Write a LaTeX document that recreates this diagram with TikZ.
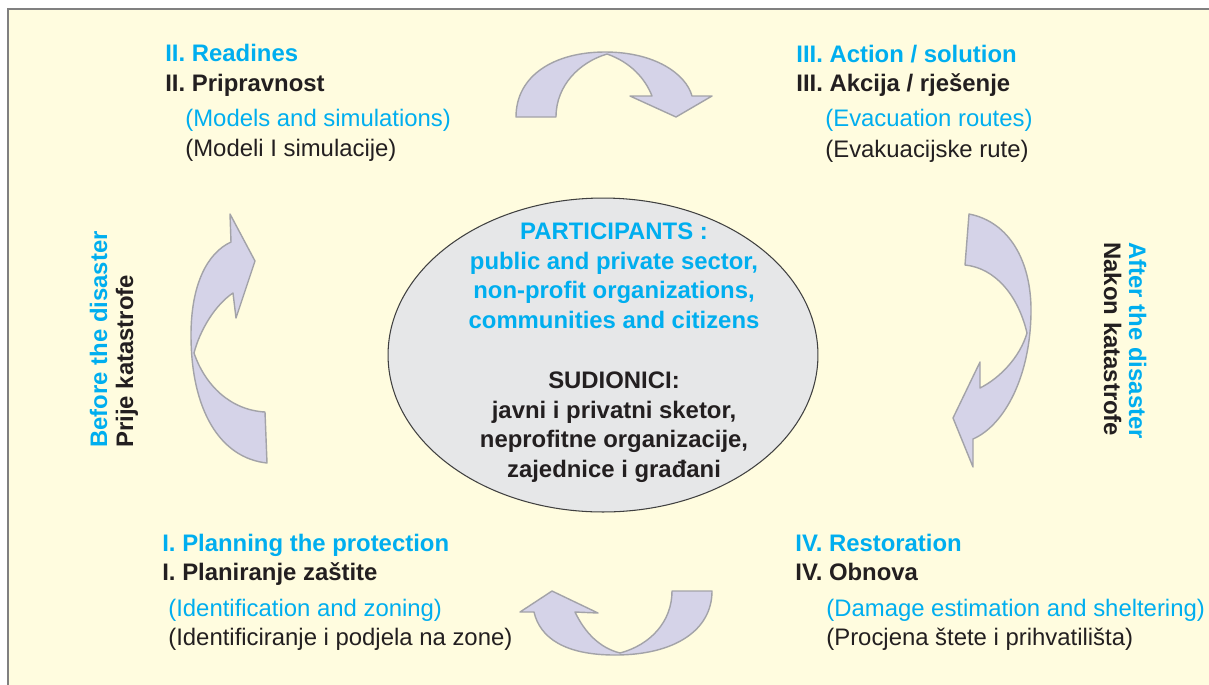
\documentclass[tikz,border=0pt]{standalone}
\usepackage{fontspec}
\setmainfont{Liberation Sans}
\usetikzlibrary{shapes.geometric}

\definecolor{gelb}{HTML}{FFFCDF}
\definecolor{hellblau}{HTML}{00AEEF}
\definecolor{schwarz}{HTML}{231F20}
\definecolor{lila}{HTML}{D5D3E8}
\definecolor{lilarand}{HTML}{A3A3A8}
\definecolor{grau}{HTML}{E6E7E8}

\tikzset{
  titel/.style={anchor=base west, inner sep=0pt, font=\fontsize{13.6}{17.1}\selectfont\bfseries},
  zeile/.style={anchor=base west, inner sep=0pt, font=\fontsize{13.6}{17.1}\selectfont},
  mitte/.style={anchor=base, inner sep=0pt, align=center, font=\fontsize{13.6}{16.7}\selectfont\bfseries},
  seite/.style={anchor=base west, inner sep=0pt, font=\fontsize{13.6}{17.1}\selectfont\bfseries},
  pfeil/.style={fill=lila, draw=lilarand, line width=0.8pt, line join=round},
}

\begin{document}
\begin{tikzpicture}[x=0.02cm, y=-0.02cm]
			% Rahmen
			\useasboundingbox (0,0) rectangle (1209,684);
			\clip (0,0) rectangle (1209,684);
			\draw[fill=gelb, draw=gray, line width=0.8pt] (8,9) rectangle (1230,700);

			% Ellipse in der Mitte
			\node[ellipse, draw=black!75, fill=grau, line width=0.6pt, minimum width=8.6cm, minimum height=6.28cm, inner sep=0pt] (kreis) at (603,355) {};
			\node[mitte, text=hellblau] (teilnehmer) at (614,328) {PARTICIPANTS :\\public and private sector,\\non-profit organizations,\\communities and citizens};
			\node[mitte, text=schwarz] (sudionici) at (614,477) {SUDIONICI:\\javni i privatni sketor,\\neprofitne organizacije,\\zajednice i građani};

			% Pfeile
			\draw[pfeil] (516,117) .. controls (516,75) and (555,52) .. (605,52) .. controls (655,52) and (686,74) .. (692,96) -- (712,96) -- (676,117) -- (630,96) -- (652,96) .. controls (645,78) and (630,62) .. (607,54) .. controls (580,62) and (556,85) .. (556,117) -- cycle;
			\draw[pfeil] (969,214) .. controls (1010,222) and (1031,262) .. (1031,310) .. controls (1031,375) and (1005,425) .. (973,439) -- (973,467) -- (953,418) -- (980,362) -- (980,388) .. controls (1000,378) and (1020,357) .. (1027,333) .. controls (1018,295) and (995,268) .. (965,265) -- cycle;
			\draw[pfeil] (712,591) .. controls (712,630) and (675,655) .. (615,655) .. controls (565,655) and (540,638) .. (534,612) -- (520,612) -- (552,591) -- (598,613) -- (575,612) .. controls (585,633) and (600,648) .. (620,653) .. controls (650,645) and (672,622) .. (672,591) -- cycle;
			\draw[pfeil] (267,463) .. controls (220,458) and (191,410) .. (191,335) .. controls (191,285) and (207,253) .. (231,242) -- (230,214) -- (255,261) -- (236,318) -- (233,293) .. controls (215,305) and (200,330) .. (194,353) .. controls (205,385) and (230,410) .. (265,412) -- cycle;

			% II. Bereitschaft
			\node[titel, text=hellblau] (zwei) at (165,61) {II. Readines};
			\node[titel, text=schwarz] (zweihr) at (165,91) {II. Pripravnost};
			\node[zeile, text=hellblau] (zweisub) at (185,126) {(Models and simulations)};
			\node[zeile, text=schwarz] (zweisubhr) at (185,156) {(Modeli I simulacije)};

			% III. Aktion
			\node[titel, text=hellblau] (drei) at (796,62) {III. Action / solution};
			\node[titel, text=schwarz] (dreihr) at (796,91) {III. Akcija / rješenje};
			\node[zeile, text=hellblau] (dreisub) at (825,126) {(Evacuation routes)};
			\node[zeile, text=schwarz] (dreisubhr) at (825,157) {(Evakuacijske rute)};

			% I. Planung
			\node[titel, text=hellblau] (eins) at (162,551) {I. Planning the protection};
			\node[titel, text=schwarz] (einshr) at (162,580) {I. Planiranje zaštite};
			\node[zeile, text=hellblau] (einssub) at (168,616) {(Identification and zoning)};
			\node[zeile, text=schwarz] (einssubhr) at (168,645) {(Identificiranje i podjela na zone)};

			% IV. Wiederaufbau
			\node[titel, text=hellblau] (vier) at (795,551) {IV. Restoration};
			\node[titel, text=schwarz] (vierhr) at (795,580) {IV. Obnova};
			\node[zeile, text=hellblau] (viersub) at (826,616) {(Damage estimation and sheltering)};
			\node[zeile, text=schwarz] (viersubhr) at (826,645) {(Procjena štete i prihvatilišta)};

			% Seitenbeschriftungen
			\node[seite, rotate=90, text=hellblau] (vor) at (107,448) {Before the disaster};
			\node[seite, rotate=90, text=schwarz] (vorhr) at (133,448) {Prije katastrofe};
			\node[seite, rotate=-90, text=hellblau] (nach) at (1129,242) {After the disaster};
			\node[seite, rotate=-90, text=schwarz] (nachhr) at (1104,242) {Nakon katastrofe};

		\end{tikzpicture}
\end{document}
